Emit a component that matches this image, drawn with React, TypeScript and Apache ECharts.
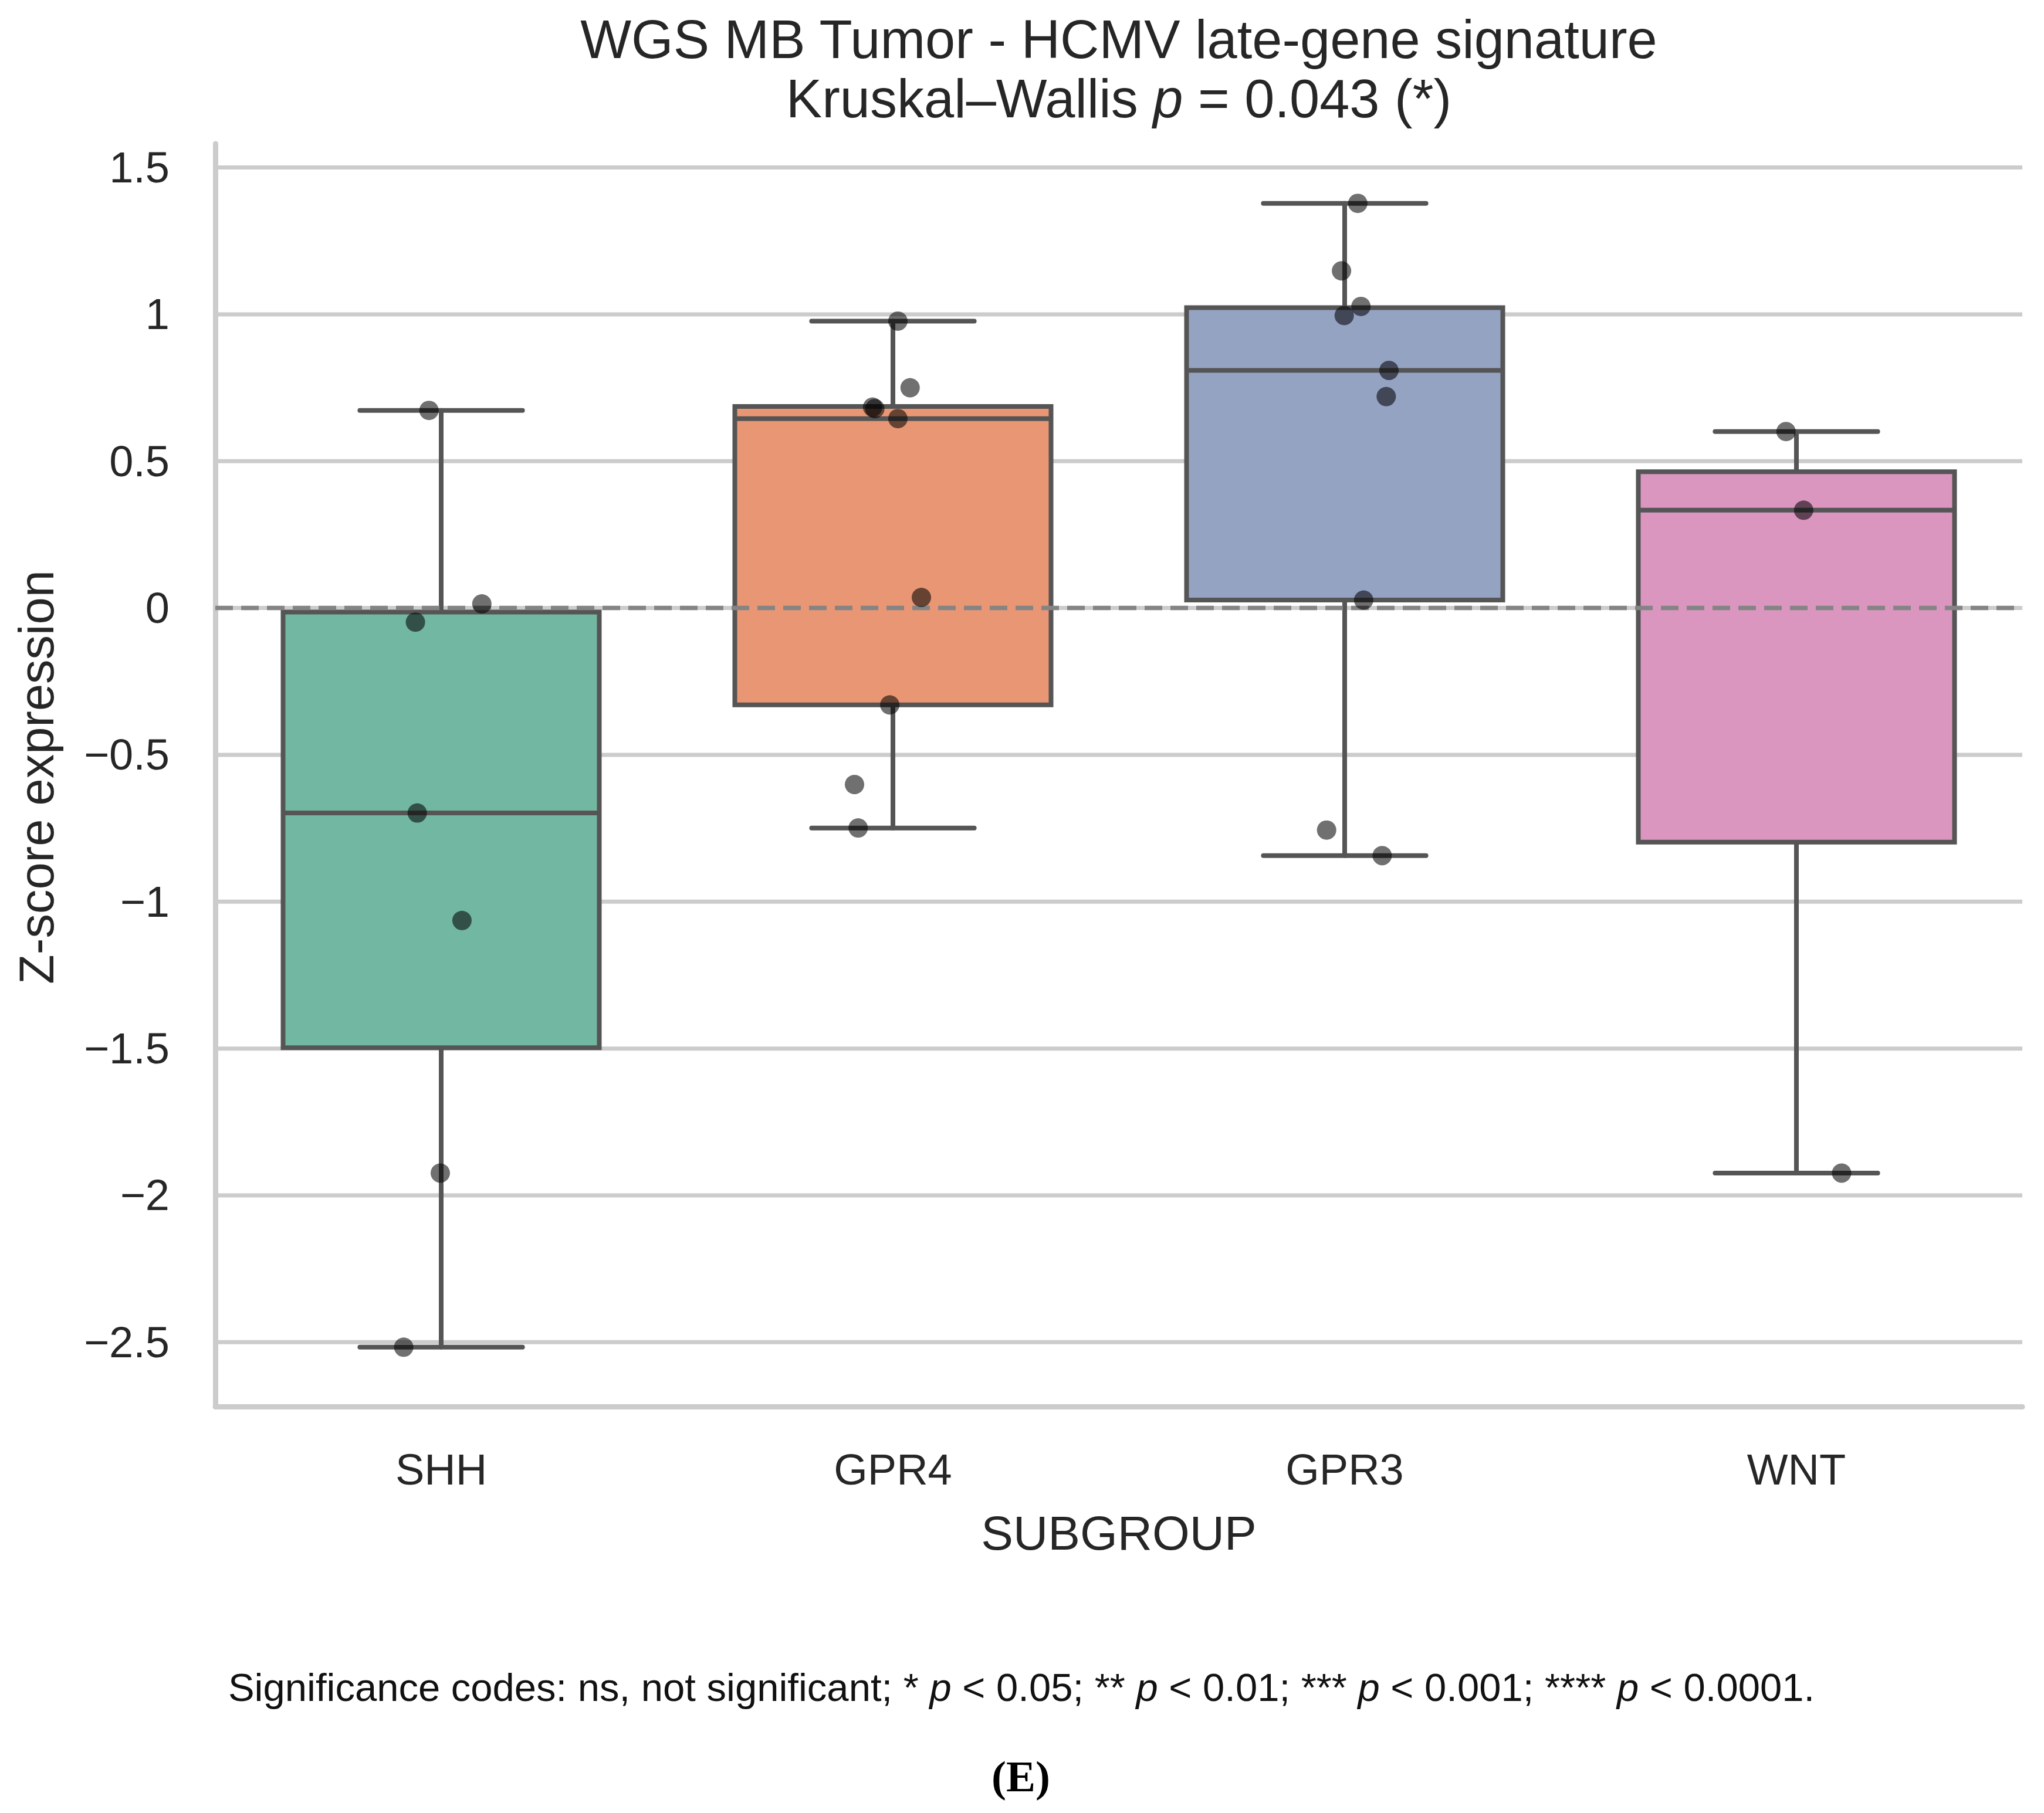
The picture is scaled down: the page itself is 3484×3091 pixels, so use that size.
import React, { useEffect, useRef } from "react";
import * as echarts from "echarts";

const W = 3484;
const H = 3091;

const categories = ["SHH", "GPR4", "GPR3", "WNT"];
const yTicks = [-2.5, -2, -1.5, -1, -0.5, 0, 0.5, 1, 1.5];
const yMin = -2.719;
const yMax = 1.581;

// five-number summaries: [lower whisker, Q1, median, Q3, upper whisker]
const shhBox = [-2.517, -1.497, -0.698, -0.014, 0.673];
const gpr4Box = [-0.749, -0.33, 0.645, 0.686, 0.977];
const gpr3Box = [-0.843, 0.027, 0.809, 1.023, 1.378];
const wntBox = [-1.924, -0.797, 0.333, 0.464, 0.601];

// individual samples and their horizontal jitter (category units)
const shhPoints = [0.673, 0.014, -0.048, -0.698, -1.064, -1.924, -2.517];
const shhJitter = [-0.027, 0.09, -0.057, -0.053, 0.046, -0.002, -0.083];
const gpr4Points = [0.977, 0.75, 0.684, 0.679, 0.645, 0.036, -0.33, -0.601, -0.749];
const gpr4Jitter = [0.011, 0.038, -0.045, -0.04, 0.011, 0.063, -0.007, -0.085, -0.077];
const gpr3Points = [1.378, 1.148, 1.027, 0.996, 0.809, 0.72, 0.027, -0.756, -0.843];
const gpr3Jitter = [0.029, -0.007, 0.036, -0.001, 0.098, 0.092, 0.042, -0.04, 0.083];
const wntPoints = [0.601, 0.333, -1.924];
const wntJitter = [-0.023, 0.016, 0.1];

const boxColors = ["#72b7a1", "#e99675", "#95a3c3", "#db96c0"];
const edgeColor = "#555555";
const textColor = "#262626";
const FONT = "'Liberation Sans', Arial, Helvetica, sans-serif";

const titleLine1 = "WGS MB Tumor - HCMV late-gene signature";
const titleLine2 = "Kruskal\u2013Wallis {i|p} = 0.043 (*)";
const yLabel = "Z-score expression";
const xLabel = "SUBGROUP";
const footer =
  "Significance codes: ns, not significant; * {i|p} < 0.05; ** {i|p} < 0.01; *** {i|p} < 0.001; **** {i|p} < 0.0001.";
const panelLabel = "(E)";

export default function App() {
  const ref = useRef<HTMLDivElement>(null);

  useEffect(() => {
    if (!ref.current) return;
    const chart = echarts.init(ref.current, null, { renderer: "svg", width: W, height: H });

    const boxes = [shhBox, gpr4Box, gpr3Box, wntBox];
    const boxRows = boxes.map((b, i) => [i, ...b]);
    const groups = [
      [shhPoints, shhJitter],
      [gpr4Points, gpr4Jitter],
      [gpr3Points, gpr3Jitter],
      [wntPoints, wntJitter],
    ];
    const scatterData: number[][] = [];
    groups.forEach(([pts, jit], gi) => {
      pts.forEach((v, k) => scatterData.push([gi + jit[k], v]));
    });

    const xMin = -0.5;
    const xMax = categories.length - 0.5;

    const option: any = {
      animation: false,
      backgroundColor: "#ffffff",
      grid: { left: 367, right: 37, top: 245, bottom: 693, containLabel: false },
      xAxis: [
        {
          type: "category",
          data: categories,
          boundaryGap: true,
          axisLine: { show: true, onZero: false, lineStyle: { color: "#cccccc", width: 9 } },
          axisTick: { show: false },
          splitLine: { show: false },
          axisLabel: { fontSize: 74, fontFamily: FONT, color: textColor, margin: 70 },
        },
        {
          type: "value",
          min: xMin,
          max: xMax,
          show: false,
          splitLine: { show: false },
        },
      ],
      yAxis: {
        type: "value",
        min: yMin,
        max: yMax,
        minInterval: 0.5,
        maxInterval: 0.5,
        axisLine: { show: true, onZero: false, lineStyle: { color: "#cccccc", width: 9 } },
        axisTick: { show: false },
        splitLine: { show: false },
        axisLabel: {
          fontSize: 74,
          fontFamily: FONT,
          color: textColor,
          margin: 78,
          showMinLabel: true,
          showMaxLabel: true,
          formatter: (v: number) => {
            const r = Math.round(v * 2) / 2;
            if (Math.abs(v - r) > 1e-6) return "";
            const s = String(Math.abs(r));
            return r < 0 ? "\u2212" + s : s;
          },
        },
      },
      series: [
        {
          type: "custom",
          name: "grid",
          xAxisIndex: 1,
          yAxisIndex: 0,
          z: 0,
          silent: true,
          data: yTicks.map((v) => [xMin, v]),
          renderItem: (params: any, api: any) => {
            const v = api.value(1);
            const a = api.coord([xMin, v]);
            const b = api.coord([xMax, v]);
            return {
              type: "line",
              shape: { x1: a[0], y1: a[1], x2: b[0], y2: b[1] },
              style: { stroke: "#cccccc", lineWidth: 7 },
            };
          },
        },
        {
          type: "custom",
          name: "boxes",
          xAxisIndex: 1,
          yAxisIndex: 0,
          z: 2,
          silent: true,
          data: boxRows,
          renderItem: (params: any, api: any) => {
            const i = api.value(0);
            const lo = api.coord([i, api.value(1)]);
            const q1 = api.coord([i, api.value(2)]);
            const med = api.coord([i, api.value(3)]);
            const q3 = api.coord([i, api.value(4)]);
            const hi = api.coord([i, api.value(5)]);
            const bw = api.size([0.7, 0])[0];
            const cw = api.size([0.36, 0])[0];
            const cx = med[0];
            const lw = 8;
            const ls = { stroke: edgeColor, lineWidth: lw, lineCap: "round" };
            return {
              type: "group",
              children: [
                { type: "line", shape: { x1: cx, y1: q3[1], x2: cx, y2: hi[1] }, style: ls },
                { type: "line", shape: { x1: cx, y1: q1[1], x2: cx, y2: lo[1] }, style: ls },
                { type: "line", shape: { x1: cx - cw / 2, y1: hi[1], x2: cx + cw / 2, y2: hi[1] }, style: ls },
                { type: "line", shape: { x1: cx - cw / 2, y1: lo[1], x2: cx + cw / 2, y2: lo[1] }, style: ls },
                {
                  type: "rect",
                  shape: { x: cx - bw / 2, y: q3[1], width: bw, height: q1[1] - q3[1] },
                  style: { fill: boxColors[i], stroke: edgeColor, lineWidth: lw },
                },
                { type: "line", shape: { x1: cx - bw / 2, y1: med[1], x2: cx + bw / 2, y2: med[1] }, style: { stroke: edgeColor, lineWidth: lw } },
              ],
            };
          },
        },
        {
          type: "custom",
          name: "zero",
          xAxisIndex: 1,
          yAxisIndex: 0,
          z: 3,
          silent: true,
          data: [[xMin, 0]],
          renderItem: (params: any, api: any) => {
            const v = api.value(1);
            const a = api.coord([xMin, v]);
            const b = api.coord([xMax, v]);
            return {
              type: "line",
              shape: { x1: a[0], y1: a[1], x2: b[0], y2: b[1] },
              style: { stroke: "#848484", lineWidth: 7.5, lineDash: [30, 14] },
            };
          },
        },
        {
          type: "scatter",
          name: "samples",
          xAxisIndex: 1,
          yAxisIndex: 0,
          z: 4,
          symbol: "circle",
          symbolSize: 33,
          itemStyle: { color: "rgba(0,0,0,0.7)", borderWidth: 0 },
          data: scatterData,
        },
      ],
      graphic: [
        {
          type: "text",
          x: 1907,
          y: 67,
          silent: true,
          style: {
            text: titleLine1,
            fontSize: 92,
            fontFamily: FONT,
            fill: textColor,
            align: "center",
            verticalAlign: "middle",
          },
        },
        {
          type: "text",
          x: 1907,
          y: 168,
          silent: true,
          style: {
            text: titleLine2,
            fontSize: 92,
            fontFamily: FONT,
            fill: textColor,
            align: "center",
            verticalAlign: "middle",
            rich: { i: { fontSize: 92, fontFamily: FONT, fontStyle: "italic", fill: textColor } },
          },
        },
        {
          type: "text",
          x: 62,
          y: 1325,
          rotation: Math.PI / 2,
          silent: true,
          style: {
            text: yLabel,
            fontSize: 83,
            fontFamily: FONT,
            fill: textColor,
            align: "center",
            verticalAlign: "middle",
          },
        },
        {
          type: "text",
          x: 1907,
          y: 2613,
          silent: true,
          style: {
            text: xLabel,
            fontSize: 82,
            fontFamily: FONT,
            fill: textColor,
            align: "center",
            verticalAlign: "middle",
          },
        },
        {
          type: "text",
          x: 1741,
          y: 2876,
          silent: true,
          style: {
            text: footer,
            fontSize: 67,
            fontFamily: FONT,
            fill: "#111111",
            align: "center",
            verticalAlign: "middle",
            rich: { i: { fontSize: 67, fontFamily: FONT, fontStyle: "italic", fill: "#111111" } },
          },
        },
        {
          type: "text",
          x: 1740,
          y: 3028,
          silent: true,
          style: {
            text: panelLabel,
            fontSize: 75,
            fontFamily: "'Liberation Serif', 'Times New Roman', serif",
            fontWeight: "bold",
            fill: "#000000",
            align: "center",
            verticalAlign: "middle",
          },
        },
      ],
    };

    chart.setOption(option);
    return () => {
      chart.dispose();
    };
  }, []);

  return (
    <div
      ref={ref}
      style={{ position: "absolute", left: 0, top: 0, width: W, height: H, background: "#ffffff" }}
    />
  );
}
